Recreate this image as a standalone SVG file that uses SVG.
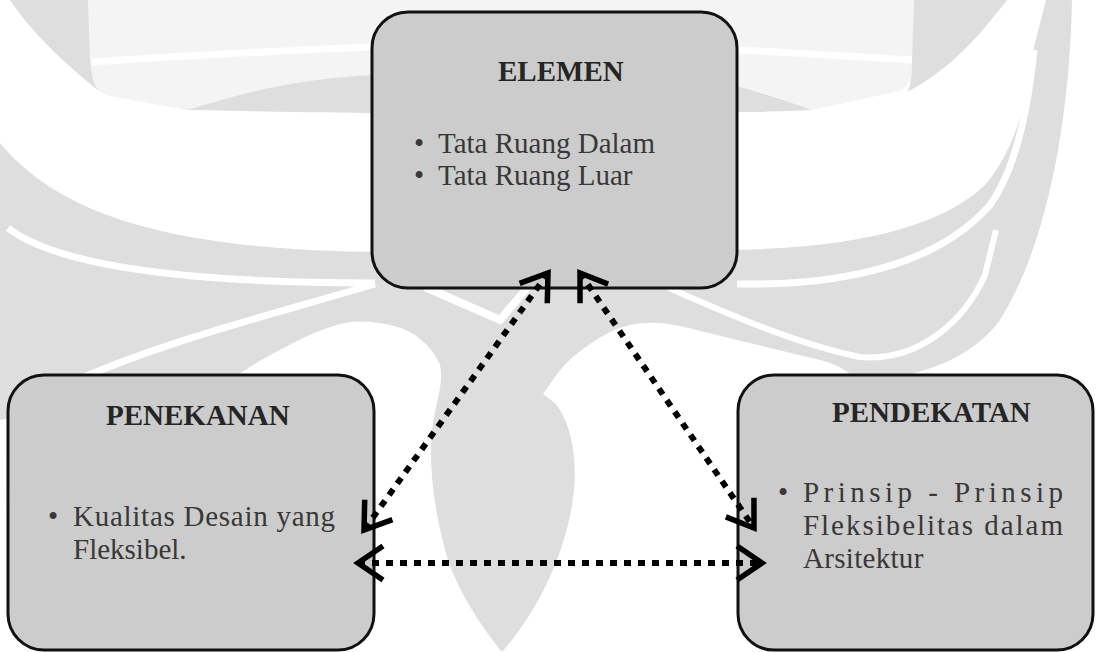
<svg xmlns="http://www.w3.org/2000/svg" width="1097" height="652" viewBox="0 0 1097 652">
  <style>
    .wm { fill: #dedede; stroke: none; }
    .wmcap { fill: #f4f4f4; stroke: none; }
    .wmgap { fill: none; stroke: #ffffff; stroke-linecap: butt; }
    .box { fill: #cccccc; stroke: #111111; stroke-width: 3; }
    .title { font-family: "Liberation Serif", "Times New Roman", serif; font-weight: bold; font-size: 29px; fill: #252525; }
    .body { font-family: "Liberation Serif", "Times New Roman", serif; font-size: 29px; fill: #383838; }
    .conn { fill: none; stroke: #000000; stroke-width: 6; stroke-dasharray: 7 7; marker-start: url(#chev); marker-end: url(#chev); }
  </style>
  <defs>
    <marker id="chev" markerUnits="userSpaceOnUse" markerWidth="70" markerHeight="70" viewBox="-35 -35 70 70" refX="0" refY="0" orient="auto-start-reverse" overflow="visible">
      <path d="M -25,-17 L 0,0 L -25,17" fill="none" stroke="#000000" stroke-width="5.5" stroke-linejoin="miter"/>
    </marker>
  </defs>

  <rect x="0" y="0" width="1097" height="652" fill="#ffffff"/>

  <g id="watermark">
    <path class="wmcap" d="M 88,0 L 914,0 L 912,70 Q 910,90 895,92 L 812,110 C 790,102 765,92 737,86 L 372,75 C 300,80 240,95 187,110 L 110,96 Q 92,92 90,70 Z"/>
    <path class="wmgap" stroke-width="7" d="M 92,62 C 150,58 250,52 372,47"/>
    <path class="wmgap" stroke-width="7" d="M 737,50 C 800,53 860,57 912,60"/>
    <path class="wm" d="M 10,0 L 88,0 L 90,60 Q 92,85 100,92 C 60,60 30,30 10,0 Z"/>
    <path class="wm" d="M 914,0 L 1007,0 C 980,35 950,70 907,92 Q 912,85 912,60 Z"/>
    <path class="wm" d="M 187,110 C 230,98 280,80 372,75 L 372,113 C 300,112 240,111 187,110 Z"/>
    <path class="wm" d="M 737,86 C 770,95 790,102 812,110 C 790,111 760,112 737,112 Z"/>
    <path class="wm" d="M 0,143 C 60,215 170,250 380,252 L 717,250 C 850,250 940,228 985,185 C 1015,150 1028,100 1034,47 L 1046,0 L 1072,0 C 1070,110 1050,240 1000,320 C 975,355 930,372 890,378 L 860,382 C 845,368 830,362 820,360 C 770,348 720,336 680,326 C 655,320 630,322 610,332 C 585,345 565,362 555,377 L 543,394 L 556,404 C 575,430 578,470 572,505 C 563,560 535,615 502,652 C 480,625 458,590 448,560 C 436,520 428,470 432,430 C 436,400 444,385 440,365 C 432,345 412,330 394,326 C 375,321 355,320 340,324 C 318,330 298,340 280,350 C 260,360 245,370 230,380 L 0,420 Z"/>
    <path class="wmgap" stroke-width="7" d="M 8,228 C 60,268 200,283 375,283"/>
    <path class="wmgap" stroke-width="7" d="M 737,284 C 850,286 940,262 990,205 C 1015,170 1028,110 1034,50"/>
    <path class="wmgap" stroke-width="7" d="M 60,388 C 150,345 260,318 375,284"/>
    <path class="wmgap" stroke-width="6" d="M 669,288 C 730,315 800,345 860,357 C 920,362 965,320 985,275 L 996,230"/>
    <path class="wmgap" stroke-width="8" stroke-linejoin="miter" d="M 425,287 L 500,320 L 528,287"/>
  </g>

  <g id="node-elemen">
    <rect class="box" x="372" y="12" width="365" height="276" rx="36" ry="36"/>
    <text class="title" x="498" y="81">ELEMEN</text>
    <text class="body" x="414" y="153">•</text>
    <text class="body" x="438" y="153">Tata Ruang Dalam</text>
    <text class="body" x="414" y="185">•</text>
    <text class="body" x="438" y="185">Tata Ruang Luar</text>
  </g>

  <g id="node-penekanan">
    <rect class="box" x="8" y="375" width="366" height="275" rx="36" ry="36"/>
    <text class="title" x="106" y="425">PENEKANAN</text>
    <text class="body" x="48" y="526">•</text>
    <text class="body" x="73" y="526" textLength="262" lengthAdjust="spacing">Kualitas Desain  yang</text>
    <text class="body" x="73" y="559">Fleksibel.</text>
  </g>

  <g id="node-pendekatan">
    <rect class="box" x="738" y="375" width="355" height="275" rx="36" ry="36"/>
    <text class="title" x="832" y="422">PENDEKATAN</text>
    <text class="body" x="778" y="502">•</text>
    <text class="body" x="803" y="502" textLength="260" lengthAdjust="spacing">Prinsip - Prinsip</text>
    <text class="body" x="803" y="535" textLength="260" lengthAdjust="spacing">Fleksibelitas dalam</text>
    <text class="body" x="803" y="568" letter-spacing="0.3">Arsitektur</text>
  </g>

  <g id="connectors">
    <line class="conn" x1="548" y1="273" x2="364" y2="530"/>
    <line class="conn" x1="580" y1="273" x2="754" y2="528"/>
    <line class="conn" x1="358" y1="563" x2="762" y2="563"/>
  </g>
</svg>
